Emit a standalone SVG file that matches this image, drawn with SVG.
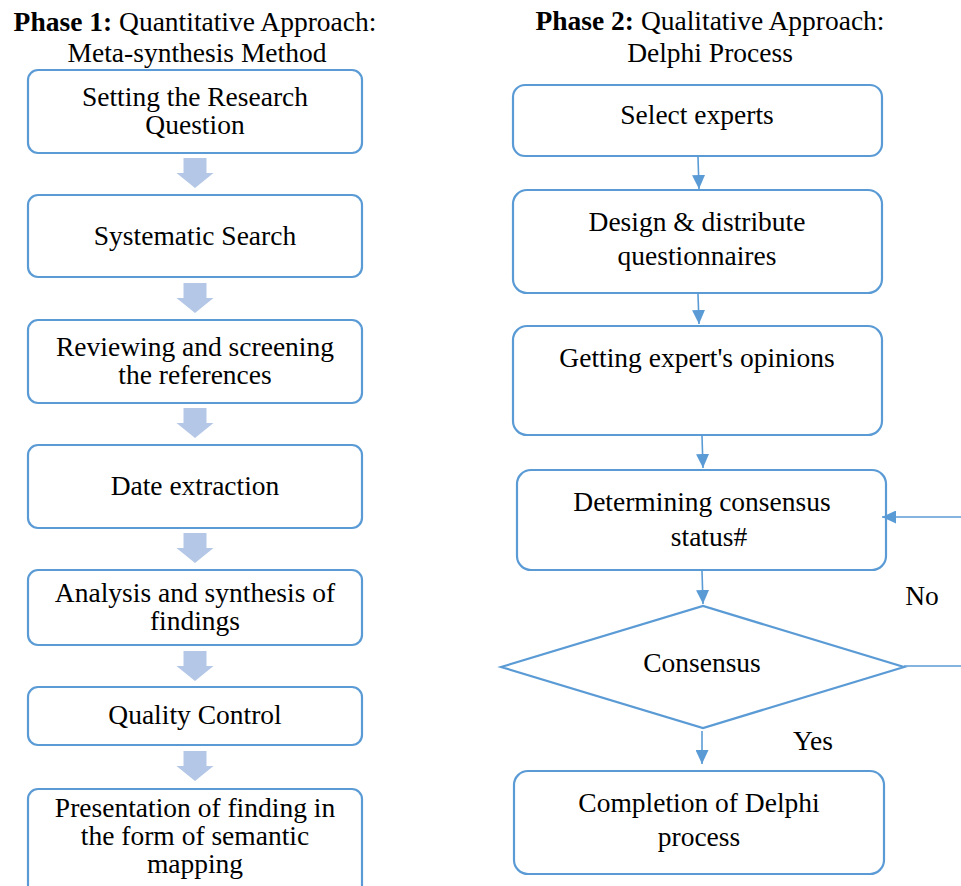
<svg xmlns="http://www.w3.org/2000/svg" width="961" height="886" viewBox="0 0 961 886">
  <style>
    .box { fill: #ffffff; stroke: #5B9BD5; stroke-width: 2.2; }
    .blk { fill: #B4C7E7; }
    .ln { fill: none; stroke: #5B9BD5; stroke-width: 1.6; }
    text { font-family: "Liberation Serif", "Times New Roman", serif; font-size: 27.5px; fill: #000000; text-anchor: middle; }
    .b { font-weight: bold; }
  </style>
  <defs>
    <marker id="tri" viewBox="0 0 10 10" refX="10" refY="5" markerWidth="14" markerHeight="13" markerUnits="userSpaceOnUse" orient="auto" preserveAspectRatio="none">
      <path d="M0,0 L10,5 L0,10 Z" fill="#5B9BD5"/>
    </marker>
    <path id="blockArrow" d="M-11.5,0 H11.5 V15 H18.5 L0,30 L-18.5,15 H-11.5 Z"/>
  </defs>

  <rect width="961" height="886" fill="#ffffff"/>

  <!-- Column headings -->
  <g id="title-phase1">
    <text x="195" y="31"><tspan class="b">Phase 1:</tspan> Quantitative Approach:</text>
    <text x="197" y="62">Meta-synthesis Method</text>
  </g>
  <g id="title-phase2">
    <text x="710" y="30"><tspan class="b">Phase 2:</tspan> Qualitative Approach:</text>
    <text x="710" y="62">Delphi Process</text>
  </g>

  <!-- Phase 1 steps -->
  <g id="p1-research-question">
    <rect class="box" x="28" y="70" width="334" height="83" rx="10"/>
    <text x="195" y="106">Setting the Research</text>
    <text x="195" y="134">Question</text>
  </g>
  <g id="p1-systematic-search">
    <rect class="box" x="28" y="195" width="334" height="82" rx="10"/>
    <text x="195" y="245">Systematic Search</text>
  </g>
  <g id="p1-reviewing">
    <rect class="box" x="28" y="320" width="334" height="83" rx="10"/>
    <text x="195" y="356">Reviewing and screening</text>
    <text x="195" y="384">the references</text>
  </g>
  <g id="p1-extraction">
    <rect class="box" x="28" y="445" width="334" height="83" rx="10"/>
    <text x="195" y="495">Date extraction</text>
  </g>
  <g id="p1-analysis">
    <rect class="box" x="28" y="570" width="334" height="75" rx="10"/>
    <text x="195" y="602">Analysis and synthesis of</text>
    <text x="195" y="630">findings</text>
  </g>
  <g id="p1-quality">
    <rect class="box" x="28" y="687" width="334" height="58" rx="10"/>
    <text x="195" y="724">Quality Control</text>
  </g>
  <g id="p1-presentation">
    <rect class="box" x="28" y="789" width="334" height="110" rx="10"/>
    <text x="195" y="817">Presentation of finding in</text>
    <text x="195" y="845">the form of semantic</text>
    <text x="195" y="873">mapping</text>
  </g>

  <!-- Phase 2 steps -->
  <g id="p2-select">
    <rect class="box" x="513" y="85" width="369" height="71" rx="12"/>
    <text x="697" y="124">Select experts</text>
  </g>
  <g id="p2-design">
    <rect class="box" x="513" y="190" width="369" height="103" rx="14"/>
    <text x="697" y="231">Design &amp; distribute</text>
    <text x="697" y="265">questionnaires</text>
  </g>
  <g id="p2-opinions">
    <rect class="box" x="513" y="326" width="369" height="109" rx="14"/>
    <text x="697" y="367">Getting expert's opinions</text>
  </g>
  <g id="p2-status">
    <rect class="box" x="517" y="470" width="369" height="100" rx="14"/>
    <text x="702" y="511">Determining consensus</text>
    <text x="709" y="546">status#</text>
  </g>
  <g id="p2-consensus">
    <polygon class="box" points="501,667 703,606 904,667 703,728"/>
    <text x="702" y="672">Consensus</text>
  </g>
  <g id="p2-completion">
    <rect class="box" x="514" y="771" width="370" height="103" rx="14"/>
    <text x="699" y="812">Completion of Delphi</text>
    <text x="699" y="846">process</text>
  </g>

  <!-- Connectors -->
  <g id="connectors">
    <use href="#blockArrow" class="blk" x="195" y="158"/>
    <use href="#blockArrow" class="blk" x="195" y="283"/>
    <use href="#blockArrow" class="blk" x="195" y="408"/>
    <use href="#blockArrow" class="blk" x="195" y="533"/>
    <use href="#blockArrow" class="blk" x="195" y="651"/>
    <use href="#blockArrow" class="blk" x="195" y="751"/>

    <line class="ln" x1="698" y1="157" x2="699" y2="189" marker-end="url(#tri)"/>
    <line class="ln" x1="698" y1="294" x2="699" y2="324" marker-end="url(#tri)"/>
    <line class="ln" x1="702" y1="436" x2="703" y2="468" marker-end="url(#tri)"/>
    <line class="ln" x1="702" y1="571" x2="703" y2="604" marker-end="url(#tri)"/>
    <line class="ln" x1="702" y1="731" x2="702" y2="764" marker-end="url(#tri)"/>
    <polyline class="ln" points="904,666 961,666"/>
    <line class="ln" x1="961" y1="517" x2="882" y2="517" marker-end="url(#tri)"/>

    <text x="922" y="605">No</text>
    <text x="813" y="750">Yes</text>
  </g>
</svg>
